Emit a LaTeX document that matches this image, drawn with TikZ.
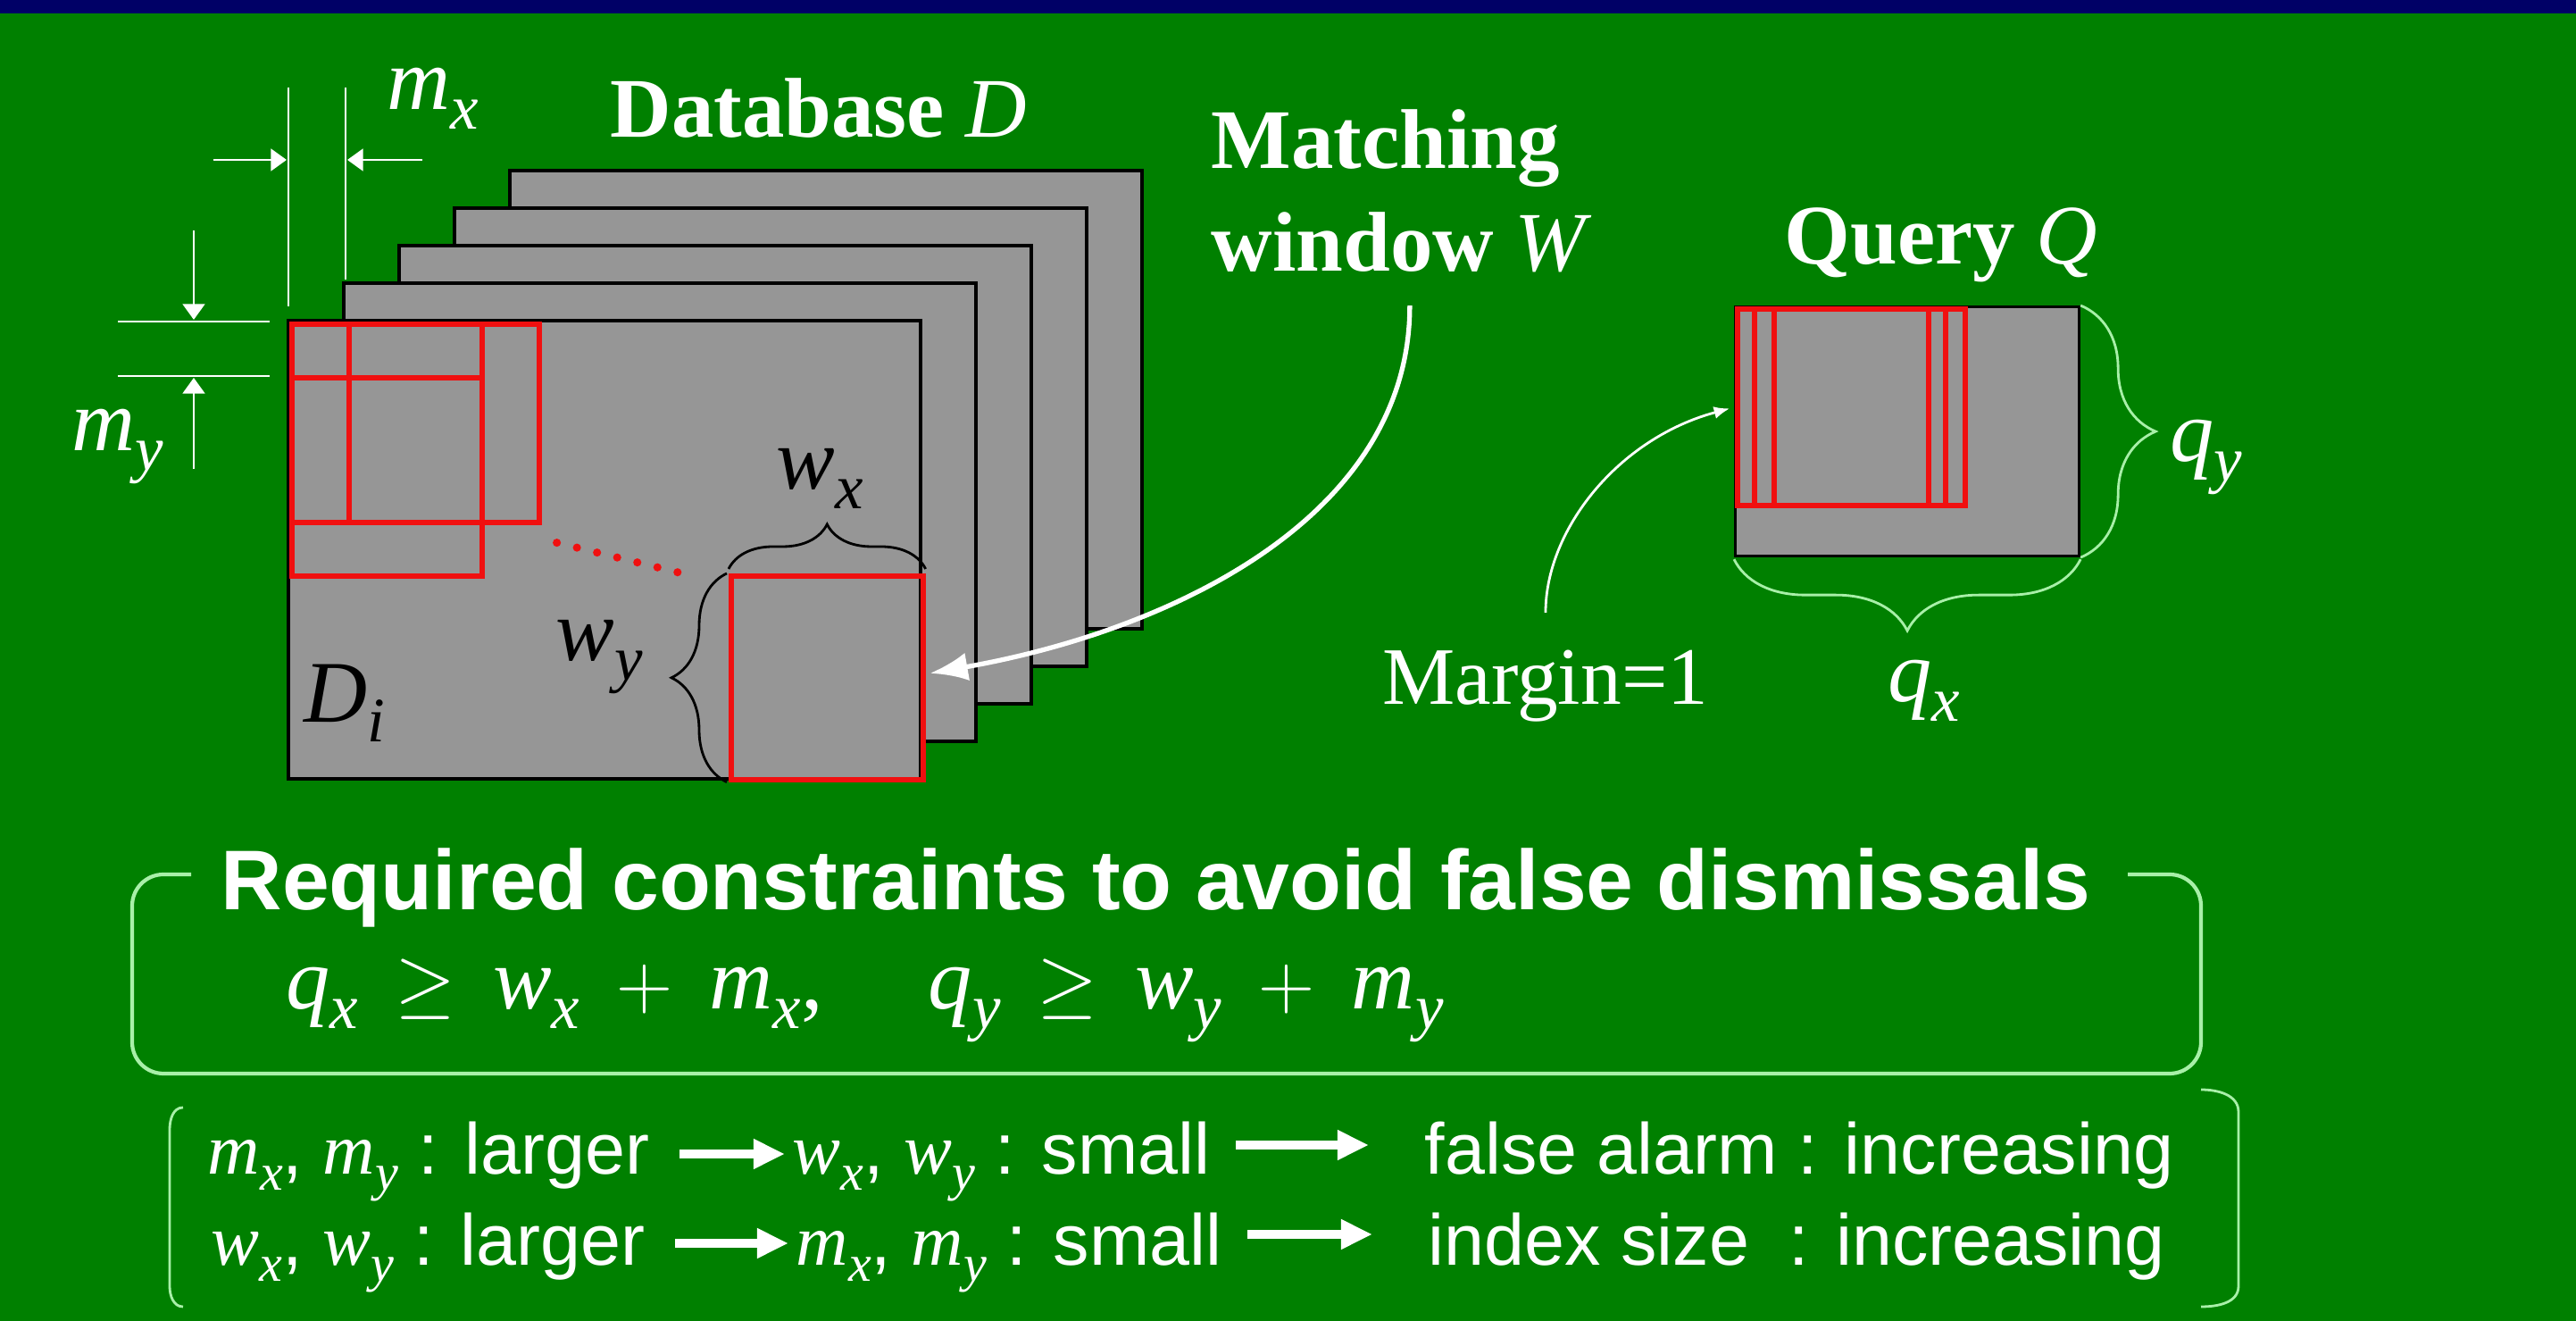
\documentclass[tikz,border=0pt]{standalone}
\usepackage{fontspec}
\setmainfont{Liberation Serif}
\setsansfont{Liberation Sans}
\usetikzlibrary{arrows.meta,decorations.pathreplacing,calc}

\definecolor{bggreen}{HTML}{008000}
\definecolor{topnavy}{HTML}{000066}
\definecolor{sheetgray}{HTML}{969696}
\definecolor{linegreen}{HTML}{A8F0A8}
\definecolor{winred}{HTML}{F01010}

% italic letter with a lowered subscript
\newcommand{\ix}[2]{{\rmfamily\itshape #1\raisebox{-0.22em}{\scalebox{0.72}{#2}}}}
\newcommand{\gp}{\hspace{0.42em}}

\tikzset{
  sheet/.style={fill=sheetgray,draw=black,line width=0.9pt},
  win/.style={draw=winred,line width=1.6pt,inner sep=0pt,anchor=north west,
    minimum width=2.13cm,minimum height=2.22cm},
  dimline/.style={white,line width=0.8pt},
  dimarrow/.style={white,line width=0.8pt,-{Triangle[length=5pt,width=7pt]}},
  lbl/.style={inner sep=0pt,anchor=base west,font=\fontsize{28}{32}\selectfont},
  head/.style={inner sep=0pt,anchor=base west,white,font=\bfseries\fontsize{27}{32}\selectfont},
  brc/.style={decorate,decoration={brace,amplitude=#1},line width=0.8pt},
  rowtxt/.style={inner sep=0pt,anchor=base west,white,font=\sffamily\fontsize{23}{28}\selectfont},
  fatarrow/.style={white,line width=2.6pt,-{Triangle[length=10pt,width=9pt]}},
  frame/.style={linegreen,line width=1.2pt},
}

\begin{document}
\begin{tikzpicture}[x=1cm,y=1cm]
\useasboundingbox (0,0) rectangle (28.85,-14.79);
\fill[bggreen] (0,0) rectangle (28.85,-14.79);
\fill[topnavy] (0,0) rectangle (28.85,-0.15);

% database sheets, back to front
\foreach \k in {4,3,2,1,0}
  \draw[sheet] ({3.23+0.62*\k},{-3.59+0.42*\k}) rectangle ++(7.08,-5.13);

% matching windows
\node[win] (w00) at (3.24,-3.60) {};
\node[win] (w10) at (3.88,-3.60) {};
\node[win] (w01) at (3.24,-4.20) {};
\node[win,minimum width=2.15cm,minimum height=2.28cm] (wn) at (8.16,-6.42) {};
\draw[winred,line width=2.6pt,line cap=round,dash pattern=on 0pt off 6.6pt]
  ([shift={(0.17,-0.20)}]w10.south east) -- ([shift={(-0.52,0)}]wn.north west);

\draw[brc=0.5cm] ([yshift=0.05cm]wn.north west) -- ([yshift=0.05cm]wn.north east);
\draw[brc=0.62cm] ([xshift=-0.02cm]wn.south west) -- ([xshift=-0.02cm]wn.north west);
\node[lbl] (wx) at (8.69,-5.48) {\ix wx};
\node[lbl] (wy) at (6.22,-7.40) {\ix wy};
\node[lbl] (di) at (3.40,-8.09) {\ix Di};

% margins m_x and m_y
\draw[dimline] (3.23,-0.98) -- (3.23,-3.43);
\draw[dimline] (3.87,-0.98) -- (3.87,-3.13);
\draw[dimarrow] (2.39,-1.79) -- (3.21,-1.79);
\draw[dimarrow] (4.73,-1.79) -- (3.89,-1.79);
\node[lbl,white] (mx) at (4.33,-1.23) {\ix mx};
\draw[dimline] (1.32,-3.60) -- (3.02,-3.60);
\draw[dimline] (1.32,-4.21) -- (3.02,-4.21);
\draw[dimarrow] (2.17,-2.58) -- (2.17,-3.58);
\draw[dimarrow] (2.17,-5.25) -- (2.17,-4.23);
\node[lbl,white] (my) at (0.80,-5.05) {\ix my};

\node[head] (db) at (6.83,-1.54) {Database \textmd{\textit{D}}};
\node[head] (match1) at (13.56,-1.89) {Matching};
\node[head] (match2) at (13.56,-3.04) {window \textmd{\textit{W}}};
\draw[white,line width=1.5pt,-{Latex[length=12pt,width=9pt]},shorten <=0.36cm]
  ([xshift=0.09cm]match2.south) to[out=-90,in=10] ([shift={(0.05,0.05)}]wn.east);

% query
\node[head] (qry) at (19.98,-2.96) {Query \textmd{\textit{Q}}};
\node[sheet,inner sep=0pt,anchor=north west,minimum width=3.85cm,minimum height=2.79cm] (qbox) at (19.42,-3.42) {};
\foreach \dx [count=\i] in {0,0.19,0.41}
  \node[win,minimum width=2.14cm,minimum height=2.2cm] (q\i) at ({19.43+\dx},-3.43) {};
\draw[brc=0.84cm,linegreen] (qbox.north east) -- (qbox.south east);
\draw[brc=0.8cm,linegreen] ([yshift=-0.02cm]qbox.south east) -- ([yshift=-0.02cm]qbox.south west);
\node[lbl,white] (qy) at (24.30,-5.17) {\ix qy};
\node[lbl,white] (qx) at (21.14,-7.86) {\ix qx};
\node[inner sep=0pt,anchor=base west,white,font=\fontsize{26}{30}\selectfont] (margin) at (15.48,-7.89) {Margin=1};
\draw[white,line width=0.8pt,-{Latex[length=5pt,width=4pt]},shorten <=0.42cm,shorten >=0.06cm]
  (margin.north) to[out=90,in=195] (q1.west);

% constraints
\node[inner sep=0pt,anchor=base west,white,font=\sffamily\bfseries\fontsize{27}{32}\selectfont] (req) at (2.47,-10.19) {Required constraints to avoid false dismissals};
\draw[frame,rounded corners=10pt] (2.14,-9.79) -- (1.48,-9.79) -- (1.48,-12.02) -- (24.65,-12.02) -- (24.65,-9.79) -- (23.83,-9.79);
\node[lbl,white] (cond) at (3.20,-11.30) {\ix qx\gp$\geq$\gp\ix wx\gp$+$\gp\ix mx,\hspace{1.2em}\ix qy\gp$\geq$\gp\ix wy\gp$+$\gp\ix my};

% trade-offs
\node[rowtxt] (ra) at (2.32,-13.15) {\ix mx, \ix my : larger};
\node[rowtxt] (rb) at (8.87,-13.15) {\ix wx, \ix wy : small};
\node[rowtxt] (rc) at (15.95,-13.15) {false alarm : increasing};
\node[rowtxt] (sa) at (2.36,-14.17) {\ix wx, \ix wy : larger};
\node[rowtxt] (sb) at (8.91,-14.17) {\ix mx, \ix my : small};
\node[rowtxt] (sc) at (15.99,-14.17) {index size \ : increasing};
\draw[fatarrow] ([shift={(0.33,0.23)}]ra.base east) -- ([shift={(-0.08,0.23)}]rb.base west);
\draw[fatarrow] ([shift={(0.28,0.33)}]rb.base east) -- ([shift={(-0.62,0.33)}]rc.base west);
\draw[fatarrow] ([shift={(0.33,0.25)}]sa.base east) -- ([shift={(-0.08,0.25)}]sb.base west);
\draw[fatarrow] ([shift={(0.28,0.35)}]sb.base east) -- ([shift={(-0.62,0.35)}]sc.base west);
\draw[frame,line width=0.8pt] (2.05,-12.40) to[out=180,in=90] (1.90,-12.65) -- (1.90,-14.40) to[out=-90,in=180] (2.05,-14.63);
\draw[frame,line width=0.8pt] (24.65,-12.20) to[out=0,in=90] (25.07,-12.45) -- (25.07,-14.40) to[out=-90,in=0] (24.65,-14.63);
\end{tikzpicture}
\end{document}
